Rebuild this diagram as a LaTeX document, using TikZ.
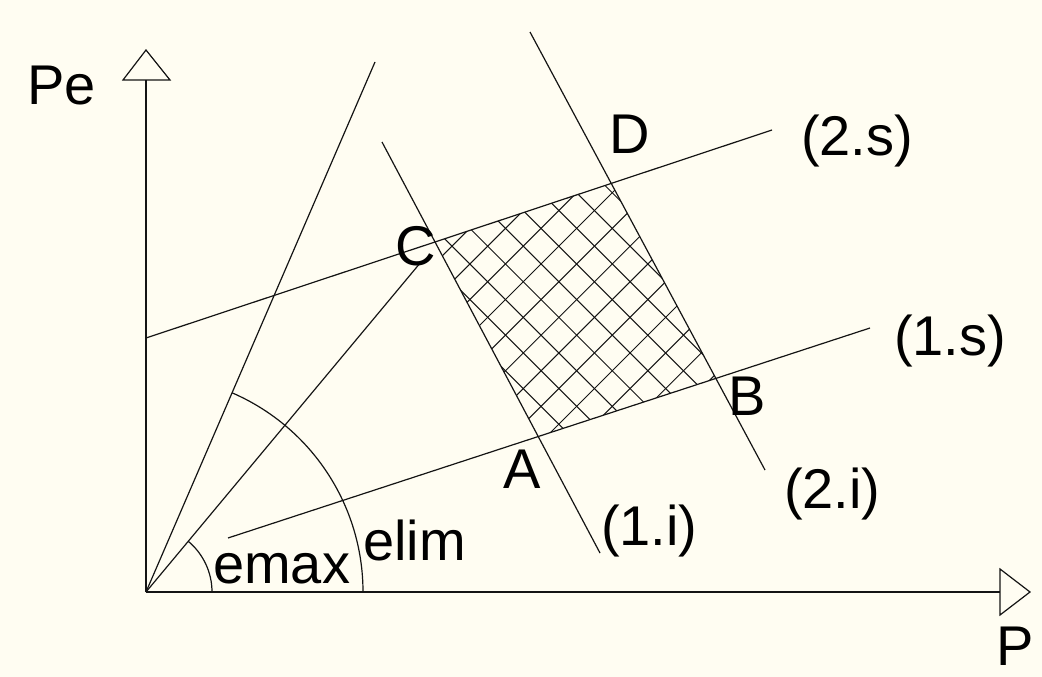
\documentclass[tikz,border=0pt]{standalone}
\usepackage{fontspec}
\setmainfont{Liberation Sans}
\usetikzlibrary{calc}
\definecolor{bg}{HTML}{FFFDF2}
\definecolor{ink}{HTML}{141414}
\begin{document}
\begin{tikzpicture}[x=1pt,y=-1pt,
  lbl/.style={inner sep=0pt, anchor=base west, font=\fontsize{56}{60}\selectfont, text=black},
  geo/.style={draw=ink, line width=1.2pt},
  axisline/.style={draw=ink, line width=2pt},
  hatchline/.style={draw=ink, line width=1pt},
  tip/.style={fill=bg, draw=ink, line width=1.2pt, line join=miter}]
\fill[bg] (0,0) rectangle (1042,677);
\useasboundingbox (0,0) rectangle (1042,677);
\coordinate (O) at (146,592);
\coordinate (S1) at (375,62);
\coordinate (S2) at (421,262);
\coordinate (a2s) at (146,338); \coordinate (b2s) at (772,130);
\coordinate (a1s) at (228,538); \coordinate (b1s) at (870,328);
\coordinate (a1i) at (382,142); \coordinate (b1i) at (600,553);
\coordinate (a2i) at (530,32);  \coordinate (b2i) at (765,470);
\coordinate (C) at (intersection of a2s--b2s and a1i--b1i);
\coordinate (D) at (intersection of a2s--b2s and a2i--b2i);
\coordinate (A) at (intersection of a1s--b1s and a1i--b1i);
\coordinate (B) at (intersection of a1s--b1s and a2i--b2i);
\coordinate (Ytop) at (146,80);
\coordinate (Xend) at (1000,592);
% hatch
\begin{scope}
\clip (A)--(B)--(D)--(C)--cycle;
\foreach \k in {-10,...,12} {
  \pgfmathsetmacro\cA{805+35.6*\k}
  \pgfmathsetmacro\cB{348.3+35.6*\k}
  \draw[hatchline] (300,\cA-300) -- (900,\cA-900);
  \draw[hatchline] (300,300-\cB) -- (900,900-\cB);
}
\end{scope}
% lines
\draw[geo] (O) -- (S1);
\draw[geo] (O) -- (S2);
\draw[geo] (a2s) -- (b2s);
\draw[geo] (a1s) -- (b1s);
\draw[geo] (a1i) -- (b1i);
\draw[geo] (a2i) -- (b2i);
% arcs
\draw[geo] (O) ++(66,0) arc[start angle=0, end angle=-50.19, radius=66];
\draw[geo] (O) ++(217,0) arc[start angle=0, end angle=-66.63, radius=217];
% axes
\draw[axisline] (O) -- (Ytop);
\draw[axisline] (O) -- (Xend);
\filldraw[tip] (123,80) -- (170,80) -- (146,50) -- cycle;
\filldraw[tip] (1000,569) -- (1000,615) -- (1030,592) -- cycle;
% labels
\node[lbl] (lPe) at (27,104) {Pe};
\node[lbl] (lP) at (996,665) {P};
\node[lbl] (l2s) at (801,155) {(2.s)};
\node[lbl] (l1s) at (894,355) {(1.s)};
\node[lbl] (l1i) at (601,545) {(1.i)};
\node[lbl] (l2i) at (784,508) {(2.i)};
\node[lbl] (lB) at (728,415) {B};
\node[lbl] (lC) at (395,265) {C};
\node[lbl] (lD) at (609,153) {D};
\node[lbl] (lA) at (503,488) {A};
\node[lbl] (lemax) at (213,583) {emax};
\node[lbl] (lelim) at (363,560) {elim};
\end{tikzpicture}
\end{document}
